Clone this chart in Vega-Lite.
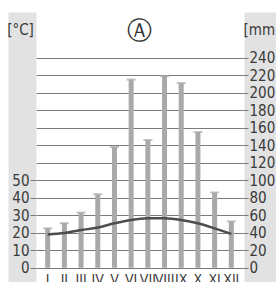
{
  "$schema": "https://vega.github.io/schema/vega-lite/v6.json",
  "width": 207,
  "height": 270,
  "autosize": {"type": "none"},
  "padding": {"left": 36, "top": 12, "right": 33, "bottom": 0},
  "background": "white",
  "config": {"view": {"stroke": null}, "font": "DejaVu Sans Condensed"},
  "title": {"text": "Ⓐ", "font": "DejaVu Sans", "fontSize": 25, "fontWeight": "normal", "color": "#333333", "anchor": "middle", "baseline": "middle", "offset": -15, "dy": 29},
  "data": {"values": [
    {"m": "I", "p": 45, "t": 19.0},
    {"m": "II", "p": 51, "t": 19.8},
    {"m": "III", "p": 63, "t": 21.5},
    {"m": "IV", "p": 84, "t": 23.0},
    {"m": "V", "p": 138, "t": 25.4},
    {"m": "VI", "p": 215, "t": 27.3},
    {"m": "VII", "p": 146, "t": 28.2},
    {"m": "VIII", "p": 219, "t": 28.2},
    {"m": "IX", "p": 211, "t": 27.3},
    {"m": "X", "p": 155, "t": 25.4},
    {"m": "XI", "p": 86, "t": 22.5},
    {"m": "XII", "p": 53, "t": 19.3}
  ]},
  "encoding": {
    "x": {"field": "m", "type": "nominal", "sort": null,
      "scale": {"type": "band", "paddingInner": 0, "paddingOuter": 0.2},
      "axis": {"orient": "bottom", "offset": -14, "domain": false, "ticks": false, "labelPadding": 4, "labelAngle": 0, "labelOverlap": false, "labelBound": false, "labelFontSize": 14, "labelColor": "#3a3a3a", "labelFont": "DejaVu Sans Condensed", "title": null}}
  },
  "layer": [
    {"mark": {"type": "rule", "opacity": 0},
      "encoding": {"y": {"field": "p", "type": "quantitative", "scale": {"domain": [-16.3, 292.2], "nice": false},
        "axis": {"orient": "left", "offset": 14, "domainWidth": 28, "domainColor": "#e2e2e2", "labels": false, "ticks": false, "grid": false, "title": null}}}},
    {"mark": {"type": "rule", "opacity": 0},
      "encoding": {"y": {"field": "p", "type": "quantitative", "scale": {"domain": [-16.3, 292.2], "nice": false},
        "axis": {"orient": "right", "offset": 18, "domainWidth": 34, "domainColor": "#e2e2e2", "labels": false, "ticks": false, "grid": false, "title": null}}}},
    {"mark": {"type": "bar", "size": 5, "color": "#a9a9a9"},
      "encoding": {"y": {"field": "p", "type": "quantitative", "scale": {"domain": [-16.3, 292.2], "nice": false},
        "axis": {"orient": "right", "values": [0, 20, 40, 60, 80, 100, 120, 140, 160, 180, 200, 220, 240], "domain": false, "grid": true, "gridColor": "#7a7a7a", "gridWidth": 1, "gridOpacity": 1, "ticks": true, "tickSize": 5, "tickColor": "#7a7a7a", "labelPadding": 1, "labelFontSize": 15, "labelColor": "#3a3a3a", "labelFont": "DejaVu Sans Condensed",
          "title": "[mm]", "titleAngle": 0, "titleX": 0, "titleY": 17, "titleAlign": "left", "titleBaseline": "middle", "titleFontWeight": "normal", "titleFontSize": 15, "titleColor": "#3a3a3a", "titleFont": "DejaVu Sans Condensed"}}}},
    {"mark": {"type": "tick", "color": "#a9a9a9", "size": 9, "thickness": 2, "orient": "horizontal"},
      "encoding": {"y": {"field": "p", "type": "quantitative", "scale": {"domain": [-16.3, 292.2], "nice": false}, "axis": null}}},
    {"mark": {"type": "line", "color": "#4d4d4d", "strokeWidth": 2.5, "interpolate": "monotone"},
      "encoding": {"y": {"field": "t", "type": "quantitative", "scale": {"domain": [-8.15, 146.1], "nice": false},
        "axis": {"orient": "left", "values": [0, 10, 20, 30, 40, 50], "domain": false, "grid": false, "ticks": true, "tickSize": 6, "tickColor": "#7a7a7a", "labelPadding": 1, "labelFontSize": 15, "labelColor": "#3a3a3a", "labelFont": "DejaVu Sans Condensed",
          "title": "[°C]", "titleAngle": 0, "titleX": -16, "titleY": 17, "titleAlign": "center", "titleBaseline": "middle", "titleFontWeight": "normal", "titleFontSize": 15, "titleColor": "#3a3a3a", "titleFont": "DejaVu Sans Condensed"}}}}
  ],
  "resolve": {"scale": {"y": "independent"}, "axis": {"y": "independent"}}
}
